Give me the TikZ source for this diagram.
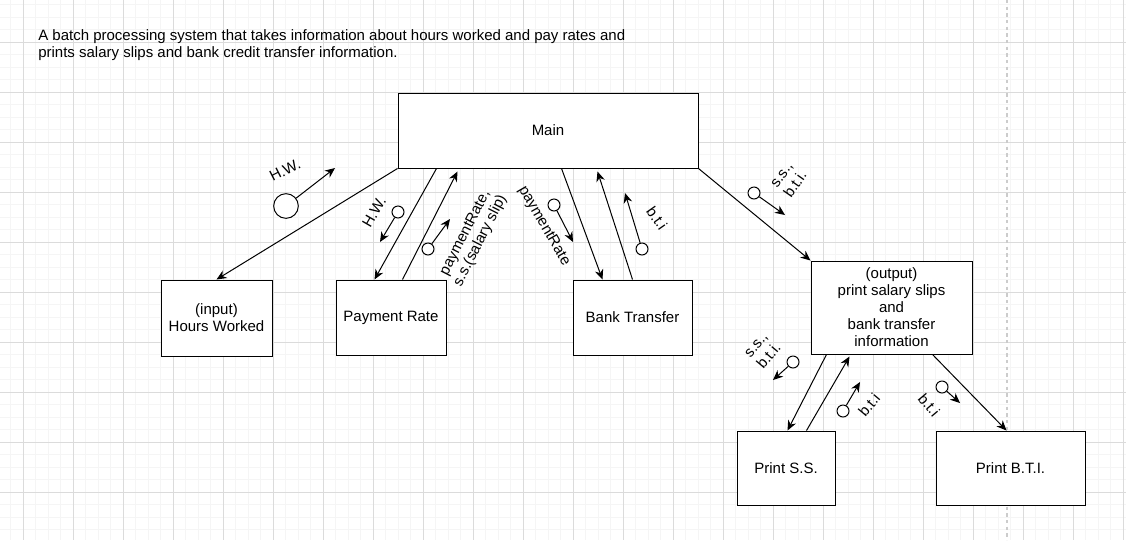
\documentclass[tikz,border=0pt]{standalone}
\usepackage{fontspec}
\setmainfont{Liberation Sans}
\usetikzlibrary{arrows.meta,calc}
\begin{document}
\begin{tikzpicture}[x=0.75pt,y=-0.75pt,
  font=\fontsize{11.25pt}{12.75pt}\selectfont,
  box/.style={draw=black,line width=0.75pt,fill=white,align=center,inner sep=0pt},
  conn/.style={draw=black,line width=0.75pt,-{Stealth[length=7.5pt,width=6.5pt]}},
  dc/.style={circle,draw=black,line width=0.75pt,fill=white,inner sep=0pt,minimum size=9pt},
  dcbig/.style={circle,draw=black,line width=0.75pt,fill=white,inner sep=0pt,minimum size=18.5pt},
  lbl/.style={align=center,inner sep=0pt},
  minorgrid/.style={draw=black!4,line width=0.6pt},
  majorgrid/.style={draw=black!14,line width=0.75pt}]
\useasboundingbox (0,0) rectangle (1126,540);
\fill[white] (0,0) rectangle (1126,540);
% grid
\foreach \i in {-1,...,88} \draw[minorgrid] ({23+12.5*\i},0) -- ({23+12.5*\i},540);
\foreach \j in {-3,...,39} \draw[minorgrid] (0,{42+12.5*\j}) -- (1126,{42+12.5*\j});
\foreach \i in {0,...,22} \draw[majorgrid] ({23+50*\i},0) -- ({23+50*\i},540);
\foreach \j in {0,...,9} \draw[majorgrid] (0,{42+50*\j}) -- (1126,{42+50*\j});
\draw[black!20,line width=1.1pt,dash pattern=on 2.5pt off 2.5pt] (1007,0) -- (1007,540);
% title
\node[anchor=north west,align=left,inner sep=0pt] (title) at (38,29)
  {A batch processing system that takes information about hours worked and pay rates and\\
   prints salary slips and bank credit transfer information.};
% boxes
\node[box,minimum width=225pt,minimum height=56.25pt] (main) at (548,130.5) {Main};
\node[box,minimum width=83.25pt,minimum height=57pt] (hw) at (216.5,318) {(input)\\Hours Worked};
\node[box,minimum width=82.5pt,minimum height=56.25pt] (pr) at (391,317.5) {Payment Rate};
\node[box,minimum width=89.25pt,minimum height=56.25pt] (bt) at (632.5,317.5) {Bank Transfer};
\node[box,minimum width=120.75pt,minimum height=69.75pt] (out) at (891.5,307.5)
  {(output)\\print salary slips\\and\\bank transfer\\ information};
\node[box,minimum width=73.5pt,minimum height=55.5pt] (pss) at (786,468) {Print S.S.};
\node[box,minimum width=111.75pt,minimum height=55.5pt] (pbti) at (1010.5,468) {Print B.T.I.};
% connectors
\draw[conn] (main.south west) -- (hw.north);
\draw[conn] ($(main.south west)+(39,0)$) -- ($(pr.north west)+(39,0)$);
\draw[conn] ($(pr.north west)+(67,0)$) -- ($(main.south west)+(60,3)$);
\draw[conn] ($(main.south west)+(164,0)$) -- ($(bt.north west)+(30,0)$);
\draw[conn] ($(bt.north west)+(60,0)$) -- ($(main.south west)+(200,3)$);
\draw[conn] (main.south east) -- (out.north west);
\draw[conn] ($(out.south west)+(16,0)$) -- ($(pss.north west)+(51,0)$);
\draw[conn] ($(pss.north west)+(70,0)$) -- ($(out.south west)+(39,2)$);
\draw[conn] ($(out.south west)+(122,0)$) -- ($(pbti.north west)+(71,0)$);
% data couples
\node[dcbig] (c1) at (286,206) {};
\coordinate (c1t) at (335,168);
\draw[conn] (c1) -- (c1t);
\node[lbl,rotate=27] (l1) at (285,170) {H.W.};

\node[dc] (c2) at (398,212) {};
\coordinate (c2t) at (380,242);
\draw[conn] (c2) -- (c2t);
\node[lbl,rotate=60] (l2) at (374,212) {H.W.};

\node[dc] (c3) at (428,249) {};
\coordinate (c3t) at (450,219);
\draw[conn] (c3) -- (c3t);
\node[lbl,rotate=63] (l3) at (473,237) {paymentRate,\\s.s.(salary slip)};

\node[dc] (c4) at (554,205) {};
\coordinate (c4t) at (573,242);
\draw[conn] (c4) -- (c4t);
\node[lbl,rotate=-60] (l4) at (544,226) {paymentRate};

\node[dc] (c5) at (642,249) {};
\coordinate (c5t) at (625,193);
\draw[conn] (c5) -- (c5t);
\node[lbl,rotate=-55] (l5) at (657,218) {b.t.i};

\node[dc] (c6) at (754,193) {};
\coordinate (c6t) at (785,215);
\draw[conn] (c6) -- (c6t);
\node[lbl,rotate=55] (l6) at (789,180) {s.s.,\\b.t.i.};

\node[dc] (c7) at (793,362) {};
\coordinate (c7t) at (773,380);
\draw[conn] (c7) -- (c7t);
\node[lbl,rotate=50] (l7) at (763,351) {s.s.,\\b.t.i.};

\node[dc] (c8) at (843,411) {};
\coordinate (c8t) at (860,382);
\draw[conn] (c8) -- (c8t);
\node[lbl,rotate=50] (l8) at (869,405) {b.t.i};

\node[dc] (c9) at (942,387) {};
\coordinate (c9t) at (960,403);
\draw[conn] (c9) -- (c9t);
\node[lbl,rotate=-50] (l9) at (929,405) {b.t.i};
\end{tikzpicture}
\end{document}
